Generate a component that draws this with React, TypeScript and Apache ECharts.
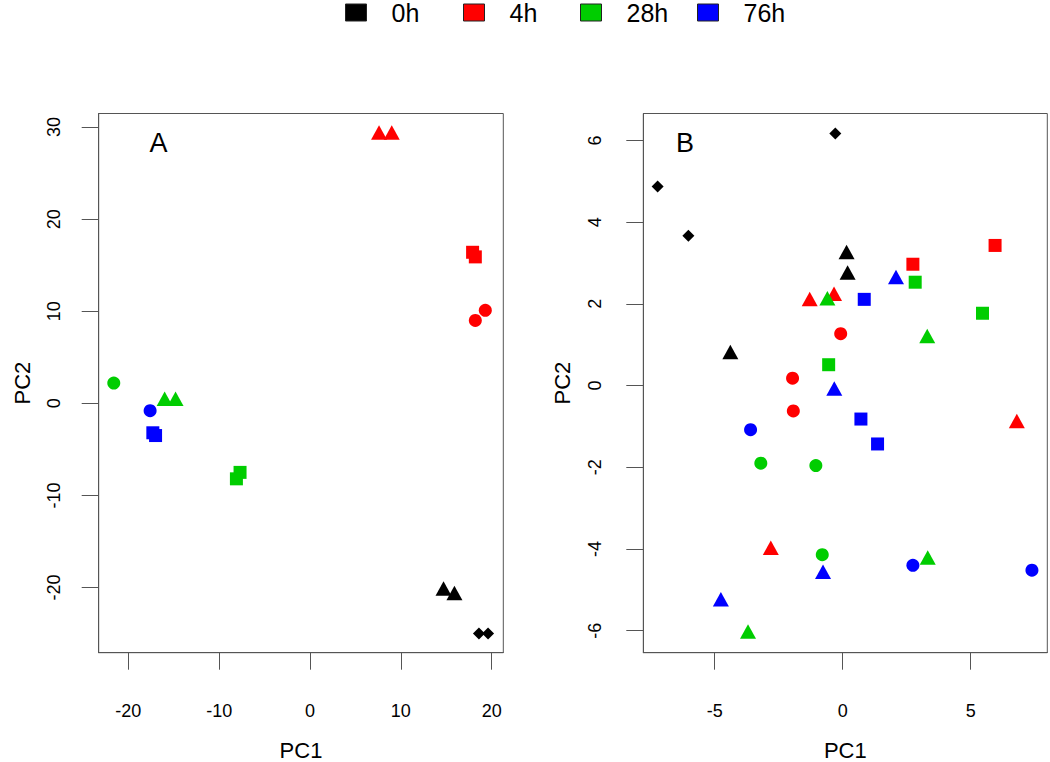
import React, { useEffect, useRef } from "react";
import * as echarts from "echarts";

// ---------- data ----------
// point = [PC1, PC2, shape]  shape: c=circle, s=square, t=triangle, d=diamond
const TIMES = ["0h", "4h", "28h", "76h"];
const COLORS = ["#000000", "#ff0000", "#00cd00", "#0000ff"];

const panelA_0h: [number, number, string][] = [
  [14.7, -20.1, "t"], [15.9, -20.6, "t"],
  [18.6, -25.0, "d"], [19.6, -25.0, "d"],
];
const panelA_4h: [number, number, string][] = [
  [7.6, 29.4, "t"], [9.0, 29.4, "t"],
  [17.9, 16.4, "s"], [18.2, 15.9, "s"],
  [19.3, 10.1, "c"], [18.2, 9.0, "c"],
];
const panelA_28h: [number, number, string][] = [
  [-21.6, 2.2, "c"],
  [-16.0, 0.5, "t"], [-14.8, 0.5, "t"],
  [-7.7, -7.5, "s"], [-8.1, -8.2, "s"],
];
const panelA_76h: [number, number, string][] = [
  [-17.6, -0.8, "c"],
  [-17.3, -3.2, "s"], [-17.0, -3.5, "s"],
];

const panelB_0h: [number, number, string][] = [
  [-0.29, 6.17, "d"], [-7.23, 4.87, "d"], [-6.03, 3.67, "d"],
  [0.15, 3.27, "t"], [0.19, 2.77, "t"], [-4.39, 0.82, "t"],
];
const panelB_4h: [number, number, string][] = [
  [-1.29, 2.12, "t"], [-0.34, 2.25, "t"], [6.8, -0.87, "t"], [-2.81, -3.97, "t"],
  [2.74, 2.97, "s"], [5.95, 3.43, "s"],
  [-0.08, 1.27, "c"], [-1.96, 0.18, "c"], [-1.93, -0.62, "c"],
];
const panelB_28h: [number, number, string][] = [
  [-0.6, 2.14, "t"], [3.3, 1.21, "t"], [3.32, -4.21, "t"], [-3.7, -6.02, "t"],
  [2.83, 2.53, "s"], [5.46, 1.77, "s"], [-0.55, 0.51, "s"],
  [-3.2, -1.9, "c"], [-1.05, -1.96, "c"], [-0.8, -4.14, "c"],
];
const panelB_76h: [number, number, string][] = [
  [2.08, 2.66, "t"], [-0.33, -0.07, "t"], [-0.77, -4.56, "t"], [-4.76, -5.23, "t"],
  [0.84, 2.11, "s"], [0.71, -0.82, "s"], [1.36, -1.43, "s"],
  [-3.6, -1.08, "c"], [2.74, -4.4, "c"], [7.39, -4.52, "c"],
];

const ticksAX = [-20, -10, 0, 10, 20];
const ticksAY = [-20, -10, 0, 10, 20, 30];
const ticksBX = [-5, 0, 5];
const ticksBY = [-6, -4, -2, 0, 2, 4, 6];

const limitsAX = [-23.26, 21.28];
const limitsAY = [-27.08, 31.47];
const limitsBX = [-7.79, 7.99];
const limitsBY = [-6.54, 6.66];

const PANEL_LABELS = ["A", "B"];
const X_TITLE = "PC1";
const Y_TITLE = "PC2";

// ---------- styling ----------
const FONT = "'Liberation Sans', Arial, Helvetica, sans-serif";
const SHAPES: Record<string, string> = { c: "circle", s: "rect", t: "triangle", d: "diamond" };
const SIZES: Record<string, number | number[]> = { c: 13, s: 13, t: [16, 14.5], d: 12 };
const FRAME = "#555";

function makeX(gridIndex: number, lim: number[], ticks: number[]) {
  return {
    type: "value",
    gridIndex,
    min: lim[0],
    max: lim[1],
    splitLine: { show: false },
    axisLine: { show: true, onZero: false, lineStyle: { color: FRAME, width: 1 } },
    axisTick: { show: true, length: 17, customValues: ticks, lineStyle: { color: FRAME, width: 1 } },
    axisLabel: { customValues: ticks, fontSize: 18, fontFamily: FONT, color: "#000", margin: 49 },
    name: X_TITLE,
    nameLocation: "middle",
    nameGap: 87,
    nameTextStyle: { fontSize: 22, fontFamily: FONT, color: "#000" },
  };
}

function makeY(gridIndex: number, lim: number[], ticks: number[], margin: number, nameGap: number) {
  return {
    type: "value",
    gridIndex,
    min: lim[0],
    max: lim[1],
    splitLine: { show: false },
    axisLine: { show: true, onZero: false, lineStyle: { color: FRAME, width: 1 } },
    axisTick: { show: true, length: 17, customValues: ticks, lineStyle: { color: FRAME, width: 1 } },
    axisLabel: { customValues: ticks, rotate: 90, fontSize: 18, fontFamily: FONT, color: "#000", margin },
    name: Y_TITLE,
    nameLocation: "middle",
    nameGap,
    nameTextStyle: { fontSize: 22, fontFamily: FONT, color: "#000" },
  };
}

function makeSeries(panel: number, groups: [number, number, string][][]) {
  return groups.map((pts, i) => ({
    type: "scatter",
    name: TIMES[i],
    xAxisIndex: panel,
    yAxisIndex: panel,
    itemStyle: { color: COLORS[i], opacity: 1 },
    data: pts.map((p) => ({
      value: [p[0], p[1]],
      symbol: SHAPES[p[2]],
      symbolSize: SIZES[p[2]],
    })),
  }));
}

const LEGEND_LEFT = [345, 463, 580, 697];

export default function App() {
  const ref = useRef<HTMLDivElement>(null);

  useEffect(() => {
    if (!ref.current) return;
    const chart = echarts.init(ref.current, undefined, { renderer: "svg" });
    const option = {
      animation: false,
      backgroundColor: "#fff",
      legend: TIMES.map((t, i) => ({
        data: [{ name: t, icon: "rect" }],
        left: LEGEND_LEFT[i],
        top: 0,
        padding: 0,
        itemWidth: 21,
        itemHeight: 17,
        selectedMode: false,
        itemStyle: { borderColor: "#222", borderWidth: 1 },
        textStyle: { fontSize: 25, fontFamily: FONT, color: "#000", padding: [5, 0, 0, 20] },
      })),
      grid: [
        { left: 98.7, top: 113.5, width: 404.6, height: 539.2, show: true, borderColor: FRAME, borderWidth: 1, containLabel: false, outerBoundsMode: "none" },
        { left: 643.3, top: 113.5, width: 404, height: 539.2, show: true, borderColor: FRAME, borderWidth: 1, containLabel: false, outerBoundsMode: "none" },
      ],
      xAxis: [makeX(0, limitsAX, ticksAX), makeX(1, limitsBX, ticksBX)],
      yAxis: [makeY(0, limitsAY, ticksAY, 36, 65), makeY(1, limitsBY, ticksBY, 39, 70)],
      graphic: [
        { type: "text", x: 158.5, y: 143, style: { text: PANEL_LABELS[0], font: `27px ${FONT}`, fill: "#000", textAlign: "center", textVerticalAlign: "middle" } },
        { type: "text", x: 685, y: 143, style: { text: PANEL_LABELS[1], font: `27px ${FONT}`, fill: "#000", textAlign: "center", textVerticalAlign: "middle" } },
      ],
      series: [
        ...makeSeries(0, [panelA_0h, panelA_4h, panelA_28h, panelA_76h]),
        ...makeSeries(1, [panelB_0h, panelB_4h, panelB_28h, panelB_76h]),
      ],
    };
    chart.setOption(option as any);
    return () => chart.dispose();
  }, []);

  return (
    <div
      ref={ref}
      style={{ position: "absolute", left: 0, top: 0, width: 1050, height: 762, background: "#fff" }}
    />
  );
}
